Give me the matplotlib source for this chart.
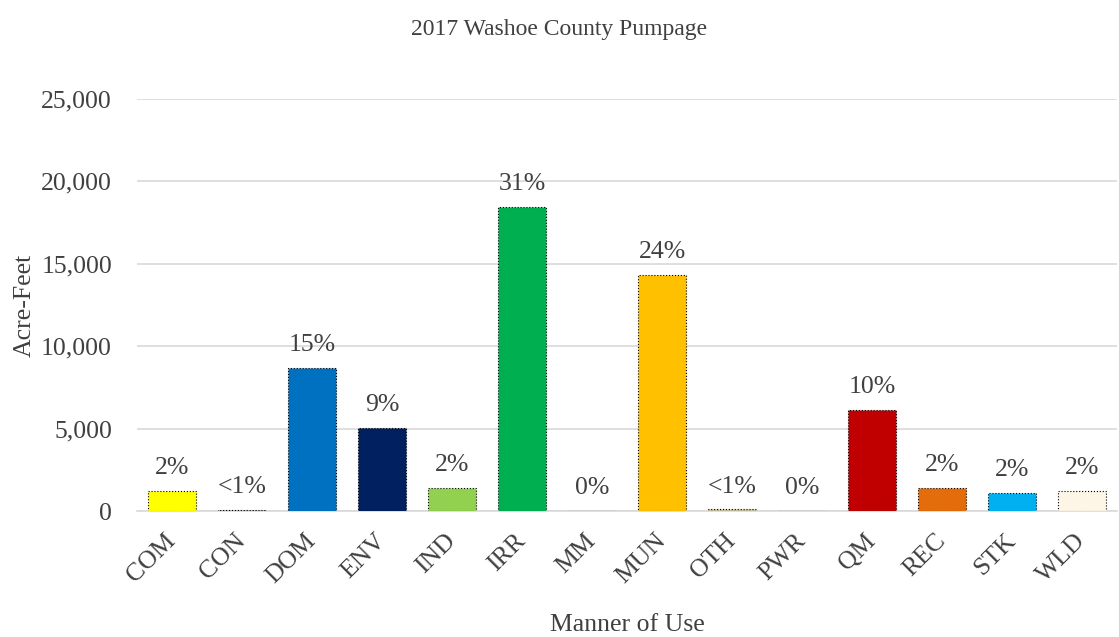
import numpy as np
import matplotlib.pyplot as plt

# Pumpage by manner of use (acre-feet)
uses = ['COM', 'CON', 'DOM', 'ENV', 'IND', 'IRR', 'MM', 'MUN', 'OTH', 'PWR', 'QM', 'REC', 'STK', 'WLD']
acre_feet = [1200, 50, 8700, 5050, 1400, 18450, 0, 14350, 100, 0, 6150, 1380, 1100, 1200]
pct_labels = ['2%', '<1%', '15%', '9%', '2%', '31%', '0%', '24%', '<1%', '0%', '10%', '2%', '2%', '2%']
bar_colors = ['#FFFF00', '#A5A5A5', '#0070C0', '#002060', '#92D050', '#00B050', '#7F7F7F',
              '#FFC000', '#C4BD97', '#7F7F7F', '#C00000', '#E46C0A', '#00B0F0', '#FDF5E6']

plt.rcParams['font.family'] = ['Liberation Serif', 'DejaVu Serif']
text_col = '#404040'
fs = 18.5

fig = plt.figure(figsize=(11.19, 6.37), dpi=100)
ax = fig.add_axes([0.1224, 0.1978, 0.876, 0.6468])

x = np.arange(len(uses))
bars = ax.bar(x, acre_feet, width=0.68, color=bar_colors, edgecolor='black',
              linestyle=':', linewidth=0.8, zorder=3)

for b, lab in zip(bars, pct_labels):  # percentage labels above each bar
    ax.annotate(lab, (b.get_x() + b.get_width() / 2, b.get_height()),
                xytext=(0, 8.5), textcoords='offset points', ha='center', va='bottom',
                fontsize=fs, color=text_col)

ax.set_xlim(-0.5, len(uses) - 0.5)
ax.set_ylim(0, 25000)
ax.set_yticks(np.arange(0, 25001, 5000))
ax.set_yticklabels(['{:,}'.format(v) for v in range(0, 25001, 5000)])
ax.yaxis.grid(True, color='#D9D9D9', linewidth=1.2, zorder=0)
ax.set_axisbelow(True)

ax.set_xticks(x)
ax.set_xticklabels(uses, rotation=45, ha='right', va='center', rotation_mode='anchor')
ax.tick_params(axis='both', length=0, labelsize=fs, labelcolor=text_col)
ax.tick_params(axis='x', pad=19)
ax.tick_params(axis='y', pad=18)

for s in ['top', 'right', 'left']:
    ax.spines[s].set_visible(False)
ax.spines['bottom'].set_color('#D9D9D9')
ax.spines['bottom'].set_linewidth(1.2)

ax.set_xlabel('Manner of Use', fontsize=fs, color=text_col, labelpad=19)
ax.set_ylabel('Acre-Feet', fontsize=fs, color=text_col, labelpad=4)
fig.text(0.5, 0.953, '2017 Washoe County Pumpage', ha='center', va='center',
         fontsize=17, color=text_col)

plt.savefig('out.png', dpi=100)
